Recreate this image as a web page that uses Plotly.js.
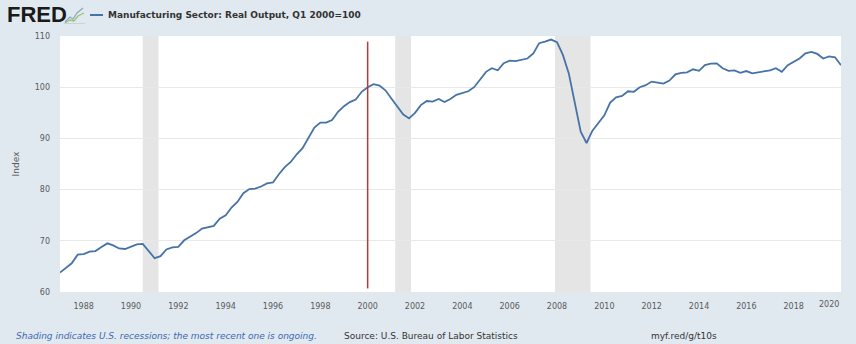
<!DOCTYPE html>
<html>
<head>
<meta charset="utf-8">
<script src="https://cdn.plot.ly/plotly-3.0.1.min.js"></script>
<style>
  html, body { margin: 0; padding: 0; background: #e1e9f0; }
  #chart { width: 856px; height: 344px; }
</style>
</head>
<body>
<div id="chart"></div>
<script>
// ---- Data (quarterly, starting 1987 Q1) ----
const seriesName = "Manufacturing Sector: Real Output, Q1 2000=100";
const firstYear = 1987;
const output = [
  63.8, 64.7, 65.6, 67.3,      // 1987
  67.4, 67.9, 68.0, 68.8,      // 1988
  69.5, 69.1, 68.5, 68.4,      // 1989
  68.9, 69.3, 69.4, 68.0,      // 1990
  66.6, 67.0, 68.3, 68.7,      // 1991
  68.8, 70.1, 70.8, 71.5,      // 1992
  72.4, 72.6, 72.9, 74.3,      // 1993
  75.0, 76.5, 77.6, 79.3,      // 1994
  80.1, 80.2, 80.6, 81.2,      // 1995
  81.4, 83.0, 84.4, 85.4,      // 1996
  86.9, 88.1, 90.0, 92.1,      // 1997
  93.1, 93.1, 93.6, 95.2,      // 1998
  96.3, 97.1, 97.6, 99.1,      // 1999
  100.0, 100.6, 100.3, 99.4,   // 2000
  97.8, 96.2, 94.7, 93.9,      // 2001
  95.0, 96.5, 97.3, 97.2,      // 2002
  97.7, 97.1, 97.7, 98.5,      // 2003
  98.8, 99.2, 100.0, 101.4,    // 2004
  103.0, 103.7, 103.3, 104.7,  // 2005
  105.2, 105.1, 105.3, 105.6,  // 2006
  106.6, 108.6, 108.9, 109.3,  // 2007
  108.8, 106.3, 102.7, 97.1,   // 2008
  91.3, 89.1, 91.5, 93.0,      // 2009
  94.5, 97.0, 98.0, 98.3,      // 2010
  99.2, 99.1, 100.0, 100.4,    // 2011
  101.1, 100.9, 100.7, 101.3,  // 2012
  102.5, 102.8, 102.9, 103.5,  // 2013
  103.2, 104.3, 104.6, 104.65, // 2014
  103.7, 103.2, 103.3, 102.8,  // 2015
  103.15, 102.7, 102.9, 103.15,// 2016
  103.3, 103.7, 103.0, 104.3,  // 2017
  104.9, 105.6, 106.6, 106.9,  // 2018
  106.5, 105.6, 106.0, 105.85, // 2019
  104.3                        // 2020
];
const recessionStart = ["1990-07-01", "2001-03-01", "2007-12-01"];
const recessionEnd   = ["1991-03-01", "2001-11-01", "2009-06-01"];
const markerDate = "2000-01-01";
const markerLow = 60.7;
const markerHigh = 108.9;
const xTickYears = [1988, 1990, 1992, 1994, 1996, 1998, 2000, 2002, 2004, 2006, 2008, 2010, 2012, 2014, 2016, 2018, 2020];
const yTicks = [60, 70, 80, 90, 100, 110];
const xRange = ["1987-01-01", "2020-01-01"];
const yRange = [60, 110];
const yTitle = "Index";
const footNote = "Shading indicates U.S. recessions; the most recent one is ongoing.";
const sourceNote = "Source: U.S. Bureau of Labor Statistics";
const linkNote = "myf.red/g/t10s";

// ---- Build dates ----
const dates = output.map((v, i) => {
  const y = firstYear + Math.floor(i / 4);
  const m = (i % 4) * 3 + 1;
  return y + "-" + String(m).padStart(2, "0") + "-01";
});

// ---- Pixel helpers for decorations (layout only) ----
const W = 856, H = 344, ML = 60, MR = 15, MT = 36, MB = 52;
const PW = W - ML - MR, PH = H - MT - MB;
const px = x => (x - ML) / PW;
const py = y => (H - MB - y) / PH;
const pathFrom = pts => pts.map((p, i) => (i ? "L" : "M") + px(p[0]) + "," + py(p[1])).join(" ");

const font = "DejaVu Sans, sans-serif";
const lastYear = xTickYears[xTickYears.length - 1];

const trace = {
  x: dates, y: output, type: "scatter", mode: "lines", name: seriesName,
  line: { color: "#4572a7", width: 1.8 }, hoverinfo: "x+y", showlegend: false
};

const shapes = [];
recessionStart.forEach((s, i) => {
  shapes.push({ type: "rect", xref: "x", yref: "paper", x0: s, x1: recessionEnd[i], y0: 0, y1: 1,
    fillcolor: "#e5e5e5", line: { width: 0 }, layer: "below" });
});
shapes.push({ type: "line", xref: "x", yref: "y", x0: markerDate, x1: markerDate, y0: markerLow, y1: markerHigh,
  line: { color: "#b83a32", width: 1.5 } });
// legend swatch
shapes.push({ type: "line", xref: "paper", yref: "paper", x0: px(90), x1: px(103), y0: py(15), y1: py(15),
  line: { color: "#4572a7", width: 2 } });
// small FRED icon
shapes.push({ type: "path", xref: "paper", yref: "paper",
  path: pathFrom([[65, 22], [70, 17], [73, 19], [77, 13], [83, 8]]), line: { color: "#8fa9c9", width: 1.3 } });
shapes.push({ type: "path", xref: "paper", yref: "paper",
  path: pathFrom([[65, 23], [70, 20], [74, 21], [78, 16], [84, 13]]), line: { color: "#9ec46a", width: 1.3 } });
shapes.push({ type: "line", xref: "paper", yref: "paper", x0: px(64), x1: px(85), y0: py(23.5), y1: py(23.5),
  line: { color: "#c9d3de", width: 1 } });

const annotations = [
  { text: "<b>FRED</b>", xref: "paper", yref: "paper", x: px(5), y: py(14.5), xanchor: "left", yanchor: "middle",
    showarrow: false, font: { family: "Liberation Sans, Arial, sans-serif", size: 22, color: "#1a1a1a" } },
  { text: "<b>" + seriesName + "</b>", xref: "paper", yref: "paper", x: px(106), y: py(15), xanchor: "left", yanchor: "middle",
    showarrow: false, font: { family: font, size: 9, color: "#333333" } },
  { text: "<i>" + footNote + "</i>", xref: "paper", yref: "paper", x: px(14), y: py(336), xanchor: "left", yanchor: "middle",
    showarrow: false, font: { family: font, size: 9, color: "#3a68b0" } },
  { text: sourceNote, xref: "paper", yref: "paper", x: px(342), y: py(336), xanchor: "left", yanchor: "middle",
    showarrow: false, font: { family: font, size: 9, color: "#333333" } },
  { text: linkNote, xref: "paper", yref: "paper", x: px(649), y: py(336), xanchor: "left", yanchor: "middle",
    showarrow: false, font: { family: font, size: 9, color: "#333333" } },
  { text: String(lastYear), xref: "x", yref: "paper", x: lastYear + "-01-01", y: py(304), xanchor: "right", yanchor: "middle",
    showarrow: false, font: { family: font, size: 8, color: "#595959" } }
];

const layout = {
  width: W, height: H,
  margin: { l: ML, r: MR, t: MT, b: MB, pad: 0 },
  paper_bgcolor: "#e1e9f0", plot_bgcolor: "#ffffff",
  showlegend: false,
  font: { family: font, size: 8, color: "#595959" },
  xaxis: {
    type: "date", range: xRange, autorange: false,
    tickvals: xTickYears.map(y => y + "-01-01"),
    ticktext: xTickYears.map(y => y === lastYear ? "" : String(y)),
    ticks: "outside", ticklen: 6, tickcolor: "#e6e6e6", tickwidth: 1,
    showgrid: false, zeroline: false, showline: true, linecolor: "#e6e6e6", linewidth: 1,
    tickfont: { family: font, size: 8, color: "#595959" }, fixedrange: true
  },
  yaxis: {
    range: yRange, autorange: false, tickvals: yTicks,
    showgrid: true, gridcolor: "#e8e8e8", gridwidth: 1, zeroline: false, showline: false,
    ticks: "", ticklabelstandoff: 9,
    tickfont: { family: font, size: 8, color: "#595959" },
    title: { text: yTitle, font: { family: font, size: 9, color: "#595959" }, standoff: 13 },
    fixedrange: true
  },
  shapes: shapes,
  annotations: annotations
};

Plotly.newPlot("chart", [trace], layout, { displayModeBar: false, staticPlot: true });
</script>
</body>
</html>
